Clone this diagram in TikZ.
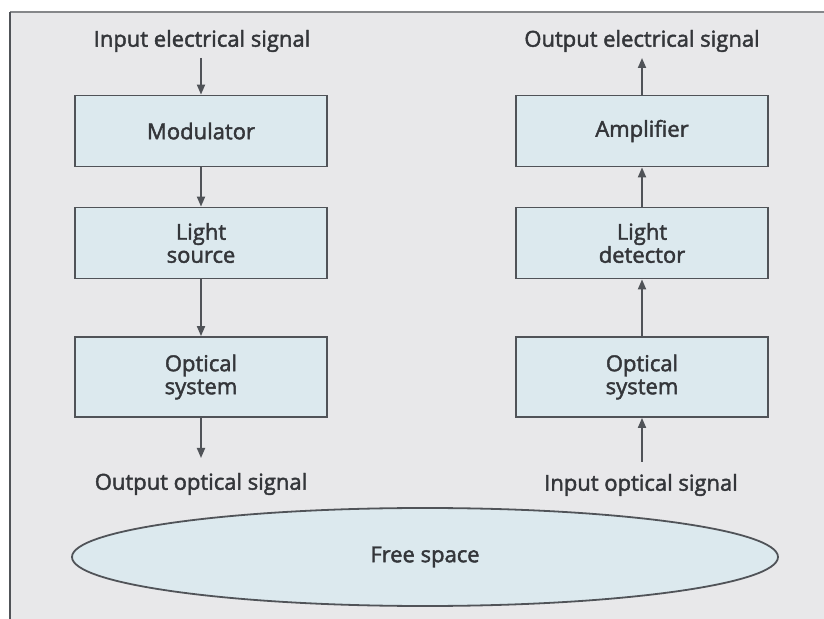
\documentclass[tikz,border=0pt]{standalone}
\usepackage{fontspec}
\setmainfont{Open Sans}
\newfontfamily\labfont{Open Sans}[FakeBold=2]
\usetikzlibrary{arrows.meta,shapes.geometric}
\definecolor{cpanel}{RGB}{232,232,234}
\definecolor{cbox}{RGB}{220,233,238}
\definecolor{cline}{RGB}{80,83,88}
\definecolor{ctext}{RGB}{52,54,58}
\begin{document}
\begin{tikzpicture}[x=0.5pt,y=-0.5pt,
        blk/.style={rectangle,draw=cline,fill=cbox,line width=0.9pt,inner sep=0pt,
          minimum width=126pt,minimum height=35.5pt,align=center,
          font=\labfont\fontsize{11}{11.5}\selectfont,text=ctext},
        sig/.style={inner sep=0pt,font=\labfont\fontsize{11}{12}\selectfont,text=ctext},
        flow/.style={draw=cline,line width=0.9pt,-{Triangle[length=5pt,width=4pt]}}]

      \useasboundingbox (0,0) rectangle (824,619);
      \fill[cpanel] (10,12) rectangle (824,619);
      \draw[line width=1pt,cline!70] (10,12) -- (824,12);
      \draw[line width=1.2pt,cline] (10,12) -- (10,619);

      % transmitter
      \node[sig] (inel)  at (202,41)  {Input electrical signal};
      \node[blk] (mod)   at (201,131) {Modulator};
      \node[blk] (src)   at (201,243) {Light\\source};
      \node[blk,minimum height=40pt] (optA) at (201,377) {Optical\\system};
      \node[sig] (outop) at (201,484) {Output optical signal};
      \coordinate (a0) at (201,58);
      \coordinate (a1) at (201,458);

      % receiver
      \node[sig] (outel) at (642,41)  {Output electrical signal};
      \node[blk] (amp)   at (642,131) {Amplifier};
      \node[blk] (det)   at (642,243) {Light\\detector};
      \node[blk,minimum height=40pt] (optB) at (642,377) {Optical\\system};
      \node[sig] (inop)  at (641,485) {Input optical signal};
      \coordinate (b0) at (642,58);
      \coordinate (b1) at (642,462);

      \node[ellipse,draw=cline,fill=cbox,line width=0.9pt,minimum width=353pt,
            minimum height=49pt,font=\labfont\fontsize{11}{12}\selectfont,text=ctext]
            (free) at (425,557) {Free space};

      \draw[flow] (a0) -- (mod.north);
      \draw[flow] (mod) -- (src);
      \draw[flow] (src) -- (optA);
      \draw[flow] (optA) -- (a1);

      \draw[flow] (b1) -- (optB.south);
      \draw[flow] (optB) -- (det);
      \draw[flow] (det) -- (amp);
      \draw[flow] (amp) -- (b0);
    \end{tikzpicture}
\end{document}
